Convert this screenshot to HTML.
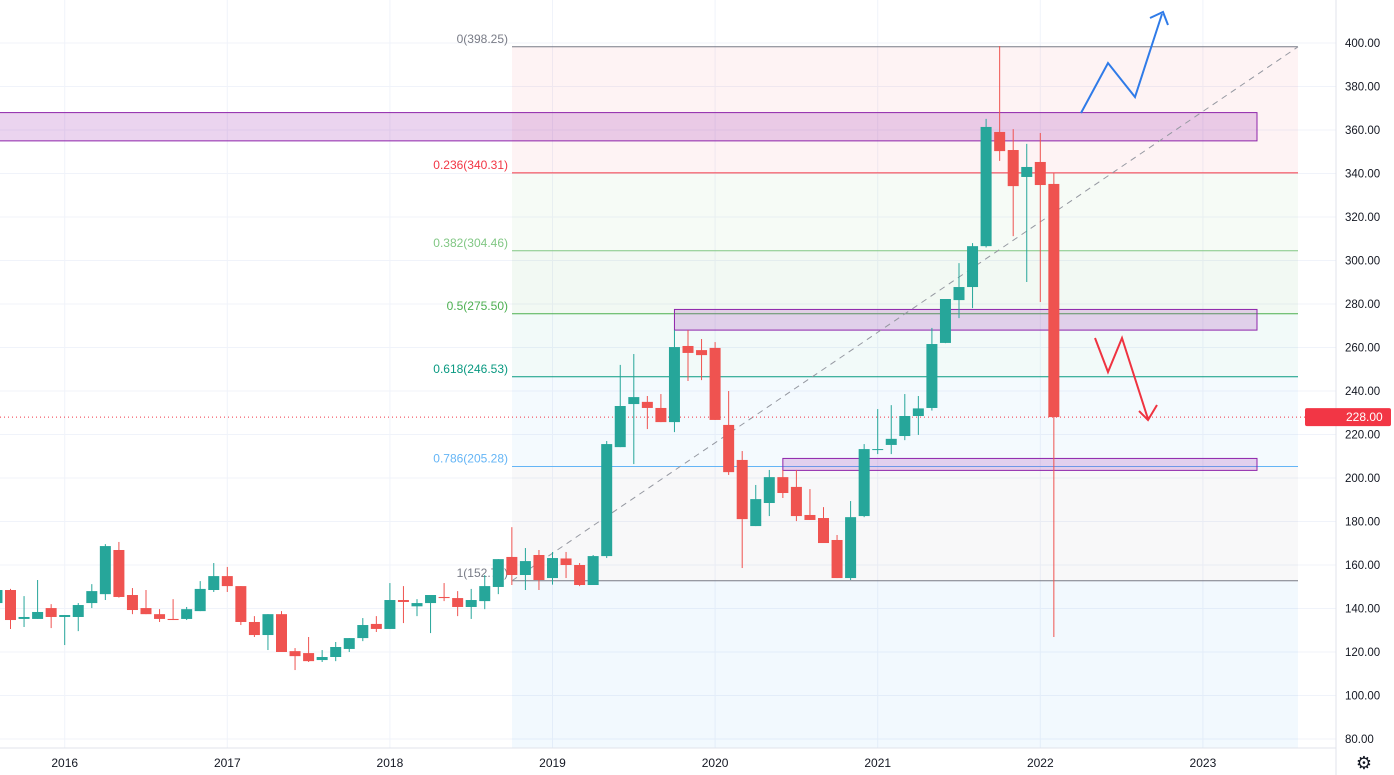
<!DOCTYPE html>
<html><head><meta charset="utf-8"><style>
body{margin:0;background:#fff;font-family:"Liberation Sans",sans-serif;}
svg{display:block}
</style></head><body>
<svg id="c" width="1394" height="775" xmlns="http://www.w3.org/2000/svg"></svg>
<script>
const candles=[[142.5,150,140,148.5],[148.5,149,130.6,134.7],[135.2,145.7,131.5,136.1],[135.2,153.1,135.2,138.4],[140.2,142,131,136.1],[136.1,137,123.2,137],[136.1,142.5,129.6,141.6],[142.5,151.2,140.2,148],[146.6,169.6,143.9,168.7],[166.9,170.6,145,145.3],[146.2,149.4,137.4,139.3],[140.2,148.5,137.4,137.4],[137.4,139.7,133.8,135.2],[135.2,144.3,134.7,134.7],[135.2,140.7,134.7,139.7],[138.8,152.6,138.8,149],[148.5,160.9,147.6,154.9],[154.9,159.1,147.6,150.3],[150.3,150.3,132.4,133.8],[133.8,136.5,126.9,127.8],[127.8,137.4,120.9,137.4],[137.4,138.8,120,120],[120.4,121.8,111.7,118.1],[119.5,126.9,115.4,115.8],[116.3,120.9,115.4,117.7],[117.7,124.6,115.8,122.3],[121.4,126.4,120,126.4],[126.4,135.6,125,132.4],[132.9,136.5,129.2,130.6],[130.6,151.7,130.6,143.9],[143.9,150.3,133.3,143],[141,144.3,136.5,142.5],[142.5,145.7,128.7,146.2],[145.3,151.7,143.4,144.8],[144.8,148,136.5,140.7],[140.7,149,135.2,143.9],[143.4,155.4,139.7,150.3],[149.9,162.7,146.6,162.7],[163.7,177.4,150.8,155.4],[155.4,167.8,148.5,161.8],[164.6,166.9,148.5,153.1],[154,166,151,163.2],[163,166,154,160],[160,160.9,150.3,150.8],[150.8,164.6,150.8,164.1],[164.1,217,163.2,215.6],[214.2,252,214.2,233.1],[234,257,206.4,237.2],[235,237.7,222.5,232.2],[232.2,238.6,225.7,225.7],[225.7,268,221.1,260.2],[260.7,268,244.6,257.5],[258.8,263.9,245,256.5],[259.8,262.5,226.7,226.7],[224.4,240,201.4,202.7],[208.3,212.4,158.6,181.1],[177.9,196.8,177.9,190.3],[188.5,203.7,182.5,200.4],[200.4,203.7,190.8,193.1],[195.9,203.7,180.2,182.5],[183,194.9,180.7,180.7],[181.6,186.6,170.1,170.1],[171.5,173.8,154,154],[154,189.4,153.1,182],[182.5,215.6,182,213.3],[212.9,231.7,211,213.3],[215.2,233.5,211,218],[219.3,238.6,217.4,228.5],[228.5,237.7,219.8,232],[232.2,269,231,261.6],[262.1,275,262,282.3],[281.8,298.8,273.5,287.8],[287.8,308,278.1,306.6],[306.6,365.1,306,361.4],[359.1,398.6,345.8,350.3],[350.8,360.4,311.2,334.2],[338.4,353.6,290.1,343],[345.3,358.6,280.9,334.7],[335.2,340.2,126.9,228]];
const priceTicks=[80,100,120,140,160,180,200,220,240,260,280,300,320,340,360,380,400];
const yearLabels=["2016","2017","2018","2019","2020","2021","2022","2023"];
const yearStartIdx=[5,17,29,41,53,65,77,89];
const fibRatios=[0,0.236,0.382,0.5,0.618,0.786,1];
const fibPrices=[398.25,340.31,304.46,275.50,246.53,205.28,152.75];
const zones=[[355,368,-12],[268,277.5,50],[203.5,209,58]];
const lastPrice=228;

const S=document.getElementById('c'),NS='http://www.w3.org/2000/svg';
const Y=p=>43+(400-p)*2.175;
const X=i=>-3.05+i*13.55;
function el(t,a,parent){const e=document.createElementNS(NS,t);for(const k in a)e.setAttribute(k,a[k]);(parent||S).appendChild(e);return e;}
const R=1336,B=748;
priceTicks.forEach(p=>{const l=el('line',{x1:0,x2:R,y1:Y(p),y2:Y(p),stroke:'#f0f3fa'});

});
yearStartIdx.forEach(i=>{const l=el('line',{x1:X(i),x2:X(i),y1:0,y2:B,stroke:'#f0f3fa'});

});
const fx1=512,fx2=1298;
const fibCols=['#787b86','#f23645','#81c784','#4caf50','#089981','#64b5f6','#787b86'];
const fibBg=['rgba(242,54,69,0.06)','rgba(129,199,132,0.07)','rgba(76,175,80,0.07)','rgba(8,153,129,0.05)','rgba(100,181,246,0.07)','rgba(120,123,134,0.05)'];
for(let k=0;k<fibRatios.length-1;k++){const r=el('rect',{x:fx1,y:Y(fibPrices[k]),width:fx2-fx1,height:Y(fibPrices[k+1])-Y(fibPrices[k]),fill:fibBg[k]});

}
const bz=el('rect',{x:fx1,y:Y(fibPrices[6]),width:fx2-fx1,height:B-Y(fibPrices[6]),fill:'rgba(33,150,243,0.06)'});


fibRatios.forEach((r,k)=>{const p=fibPrices[k],y=Y(p);
const l=el('line',{x1:fx1,x2:fx2,y1:y,y2:y,stroke:fibCols[k],'stroke-width':1});


const t=el('text',{x:508,y:y-4,'text-anchor':'end','font-size':12,fill:fibCols[k]});
t.textContent=r+'('+p.toFixed(2)+')';

});
zones.forEach(z=>{const x0=z[2]<0?-2:X(z[2]);const r=el('rect',{x:x0,y:Y(z[1]),width:1257-x0,height:Y(z[0])-Y(z[1]),fill:'rgba(156,39,176,0.2)',stroke:'#8e24aa','stroke-width':1});

});
const tl=el('line',{x1:fx1,y1:Y(fibPrices[6]),x2:fx2,y2:Y(fibPrices[0]),stroke:'#9598a1','stroke-dasharray':'6,5'});


const lp=el('line',{x1:0,x2:R,y1:Y(lastPrice),y2:Y(lastPrice),stroke:'#f23645','stroke-dasharray':'1,3'});


candles.forEach((c,i)=>{const [o,h,l,cl]=c,up=cl>=o,col=up?'#26a69a':'#ef5350',x=X(i);
const g=el('g',{});


el('line',{x1:x,x2:x,y1:Y(h),y2:Y(l),stroke:col,'stroke-width':1},g);
const t=Y(Math.max(o,cl)),b=Y(Math.min(o,cl));
el('rect',{x:x-5.5,y:t,width:11,height:Math.max(1,b-t),fill:col},g);});
const a1=el('polyline',{points:'1081,113 1108,63 1135,97 1162,14',fill:'none',stroke:'#2f7be8','stroke-width':2});


const a1h=el('polyline',{points:'1150,18 1163,12 1168,25',fill:'none',stroke:'#2f7be8','stroke-width':2});


const a2=el('polyline',{points:'1095,338 1108,372 1122,338 1148,419',fill:'none',stroke:'#ef3340','stroke-width':2});


const a2h=el('polyline',{points:'1139,411 1148,420 1157,405',fill:'none',stroke:'#ef3340','stroke-width':2});


const pa=el('rect',{x:R,y:0,width:58,height:775,fill:'#fff'});


const ta=el('rect',{x:0,y:B,width:R,height:27,fill:'#fff'});


el('line',{x1:R,x2:R,y1:0,y2:775,stroke:'#e0e3eb'});
el('line',{x1:0,x2:R,y1:B,y2:B,stroke:'#e0e3eb'});
priceTicks.forEach(p=>{const t=el('text',{x:1345,y:Y(p)+4,'font-size':11.5,fill:'#131722'});t.textContent=p.toFixed(2);

});
yearLabels.forEach((s,k)=>{const t=el('text',{x:X(yearStartIdx[k]),y:767,'text-anchor':'middle','font-size':12,fill:'#131722'});t.textContent=s;

});
const pb=el('rect',{x:1305,y:Y(lastPrice)-9,width:86,height:18,fill:'#f23645',rx:2});


const pt=el('text',{x:1346,y:Y(lastPrice)+4,'font-size':12,fill:'#fff'});pt.textContent=lastPrice.toFixed(2);


const gear=el('text',{x:1364,y:769,'text-anchor':'middle','font-size':18,fill:'#131722'});gear.textContent='⚙';


</script>
</body></html>
